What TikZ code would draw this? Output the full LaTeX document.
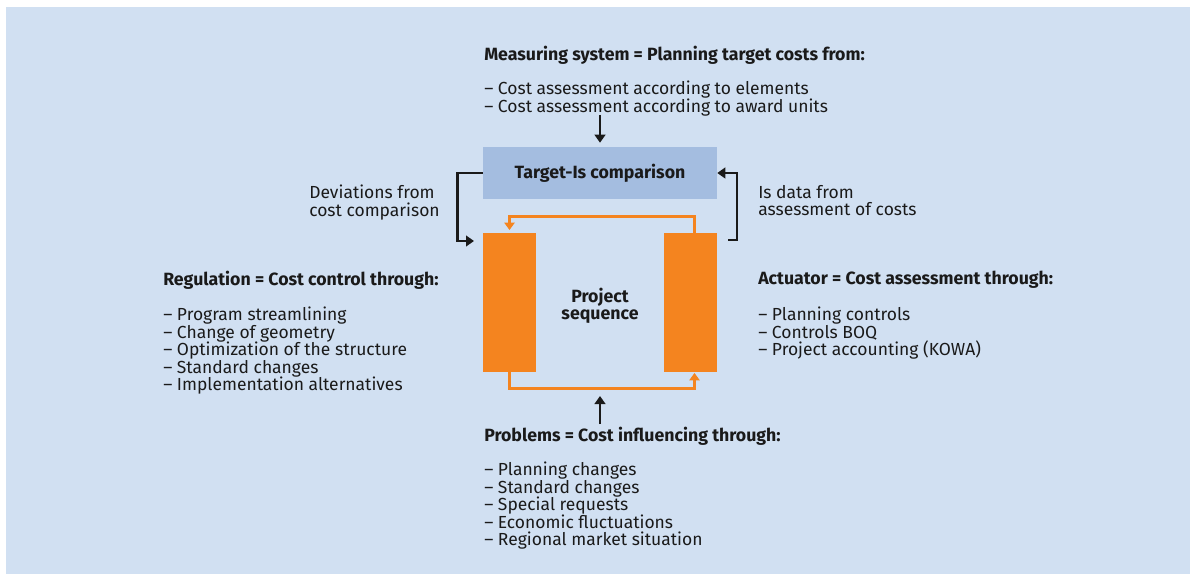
\documentclass[tikz,border=0pt]{standalone}
\usepackage{fontspec}
\setmainfont{Fira Sans}
\usetikzlibrary{arrows.meta}
\definecolor{bgc}{RGB}{209,224,242}
\definecolor{boxc}{RGB}{164,189,224}
\definecolor{orng}{RGB}{244,132,31}
\definecolor{txtc}{RGB}{26,26,26}
\begin{document}
\begin{tikzpicture}[x=0.75pt,y=-0.75pt,
  body/.style={font=\fontsize{13.1}{13.05}\selectfont, text=txtc, inner sep=0pt, anchor=north west, align=left},
  head/.style={font=\fontsize{13.3}{13.05}\selectfont\bfseries, text=txtc, inner sep=0pt, anchor=west},
  bar/.style={fill=orng, minimum width=39.75pt, minimum height=104.25pt, inner sep=0pt},
  oline/.style={draw=orng, line width=1.9pt, -{Triangle[width=7.5pt,length=5.5pt]}},
  bline/.style={draw=txtc, line width=2pt, -{Triangle[width=8pt,length=6pt]}}]
\useasboundingbox (0,0) rectangle (1190,574);
\fill[bgc] (6,7) rectangle (1190,574);

% central boxes
\node[fill=boxc, minimum width=175.5pt, minimum height=39pt, inner sep=0pt,
      font=\fontsize{13.3}{13.05}\selectfont\bfseries, text=txtc] (tis) at (600,173) {Target-Is comparison};
\node[bar] (lbar) at (509.5,302.5) {};
\node[bar] (rbar) at (690.5,302.5) {};
\node[font=\fontsize{13.3}{13.05}\selectfont\bfseries, text=txtc, align=center, inner sep=0pt] (proj) at (600,306) {Project\\sequence};

% texts
\node[head] (meash) at (484,55) {Measuring system = Planning target costs from:};
\node[body] (measl) at (484,81) {– Cost assessment according to elements\\– Cost assessment according to award units};
\node[body] (dev) at (309,185) {Deviations from\\cost comparison};
\node[body] (isd) at (758,185) {Is data from\\assessment of costs};
\node[head] (regh) at (163,280) {Regulation = Cost control through:};
\node[body] (regl) at (163,307) {– Program streamlining\\– Change of geometry\\– Optimization of the structure\\– Standard changes\\– Implementation alternatives};
\node[head] (acth) at (758,280) {Actuator = Cost assessment through:};
\node[body] (actl) at (758,307) {– Planning controls\\– Controls BOQ\\– Project accounting (KOWA)};
\node[head] (probh) at (484,436) {Problems = Cost influencing through:};
\node[body] (probl) at (484,462) {– Planning changes\\– Standard changes\\– Special requests\\– Economic fluctuations\\– Regional market situation};

% connector end points
\coordinate (la) at (474,241);
\coordinate (ra) at (728,240);
\coordinate (ta) at (600,115);
\coordinate (ba) at (600,424);
\coordinate (bb) at (600,396);

% orange loop
\draw[oline, shorten >=2pt] ([xshift=3pt]rbar.north) -- ++(0,-16) -| (lbar.north);
\draw[oline, shorten >=0.5pt] (lbar.south) -- ++(0,16) -| ([xshift=3pt]rbar.south);

% black connectors
\draw[bline] (tis.west) -- ++(-25,0) |- (la);
\draw[bline] (ra) -- ++(9,0) |- (tis.east);
\draw[bline, shorten >=3pt] (ta) -- (tis.north);
\draw[bline] (ba) -- (bb);
\end{tikzpicture}
\end{document}
